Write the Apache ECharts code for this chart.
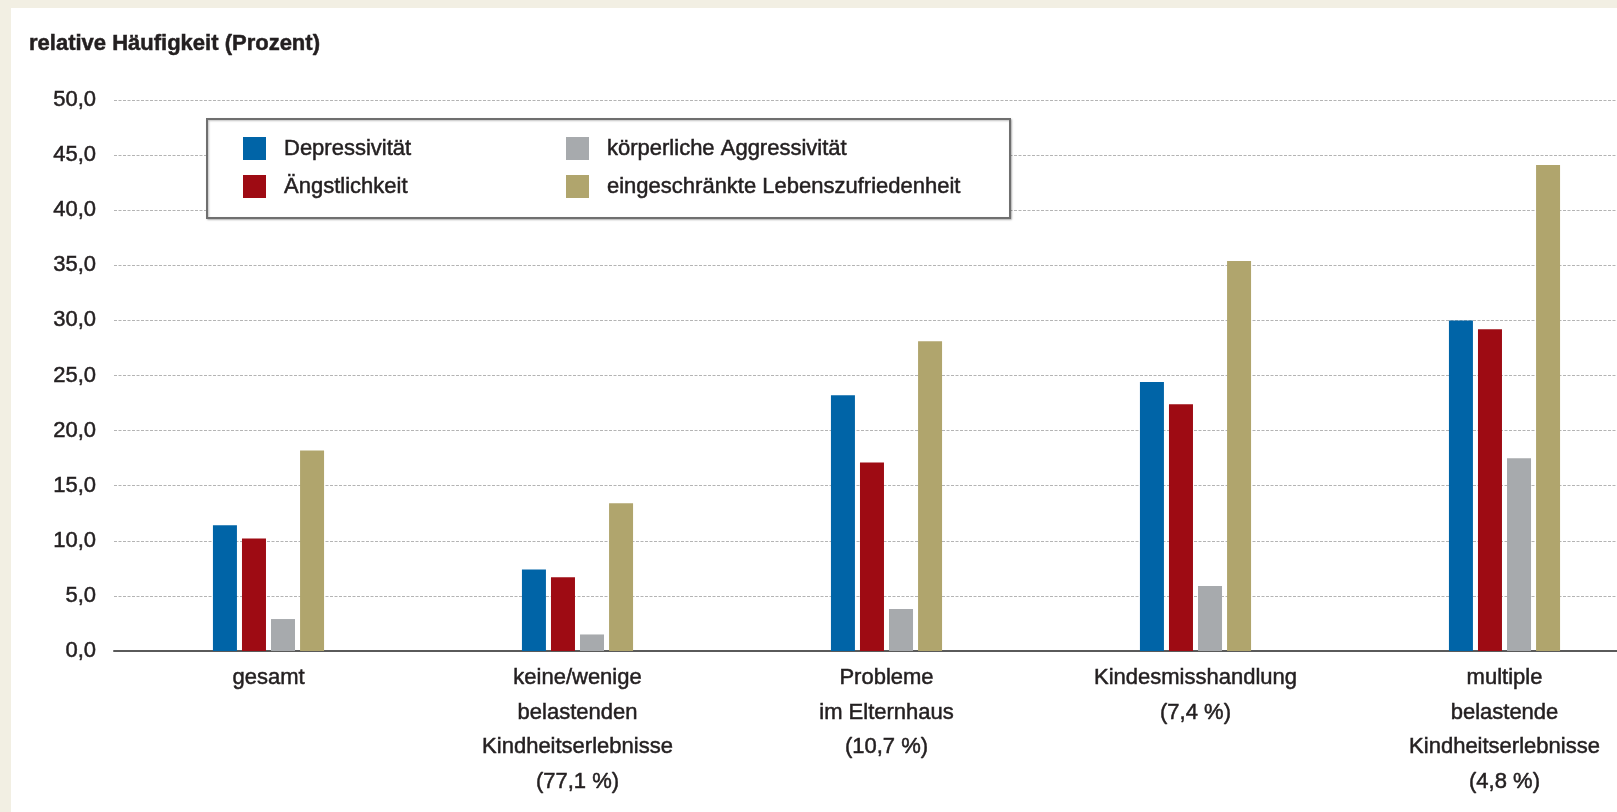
<!DOCTYPE html>
<html>
<head>
<meta charset="utf-8">
<script src="https://cdn.jsdelivr.net/npm/echarts@6/dist/echarts.min.js"></script>
<style>
  html, body { margin: 0; padding: 0; background: #f2efe3; }
  #panel { position: absolute; left: 11px; top: 8px; right: 0; bottom: 0; background: #ffffff; }
  #chart { position: absolute; left: 0; top: 0; width: 1617px; height: 812px; }
</style>
</head>
<body>
<div id="panel"></div>
<div id="chart"></div>
<script>
// Categories (group share of sample in brackets)
const categories = [
  'gesamt',
  'keine/wenige\nbelastenden\nKindheitserlebnisse\n(77,1 %)',
  'Probleme\nim Elternhaus\n(10,7 %)',
  'Kindesmisshandlung\n(7,4 %)',
  'multiple\nbelastende\nKindheitserlebnisse\n(4,8 %)'
];

// Relative frequencies in percent
const depressivitaet = [11.4, 7.4, 23.2, 24.4, 30.0];
const aengstlichkeit = [10.2, 6.7, 17.1, 22.4, 29.2];
const aggressivitaet = [2.9, 1.5, 3.8, 5.9, 17.5];
const lebenszufriedenheit = [18.2, 13.4, 28.1, 35.4, 44.1];

const seriesNames = [
  'Depressivität',
  'Ängstlichkeit',
  'körperliche Aggressivität',
  'eingeschränkte Lebenszufriedenheit'
];

// Value axis ticks
const yMin = 0, yMax = 50, yStep = 5;

const FONT = "'Liberation Sans', Arial, sans-serif";
const FS = 22;
const TEXT = '#231f20';
// thin outline in the text colour gives the labels a slightly heavier stroke
const HEAVY = { textBorderColor: TEXT, textBorderWidth: 0.5 };
const colors = ['#0064a7', '#9e0b13', '#a7aaad', '#b0a56d'];

const chart = echarts.init(document.getElementById('chart'), null, { renderer: 'canvas' });

const legendText = Object.assign({
  fontFamily: FONT, fontSize: FS, color: TEXT, lineHeight: 23,
  padding: [0, 0, 0, 13]
}, HEAVY);

const seriesData = [depressivitaet, aengstlichkeit, aggressivitaet, lebenszufriedenheit];

chart.setOption({
  backgroundColor: 'transparent',
  animation: false,
  color: colors,
  textStyle: { fontFamily: FONT },
  title: {
    text: 'relative Häufigkeit (Prozent)',
    left: 29, top: 31, padding: 0,
    textStyle: Object.assign({ fontFamily: FONT, fontSize: FS, fontWeight: 'bold', color: TEXT, lineHeight: 26 }, HEAVY)
  },
  graphic: [{
    type: 'rect',
    z: 50,
    shape: { x: 207, y: 119, width: 803, height: 99 },
    style: {
      fill: '#ffffff', stroke: '#6f6f6f', lineWidth: 2,
      shadowBlur: 2, shadowOffsetX: 1, shadowOffsetY: 1, shadowColor: 'rgba(0,0,0,0.25)'
    }
  }],
  legend: [{
    data: seriesNames.slice(0, 2),
    orient: 'vertical', left: 243, top: 137, padding: 0,
    itemWidth: 23, itemHeight: 23, itemGap: 15, icon: 'rect',
    textStyle: legendText, z: 60, selectedMode: false
  }, {
    data: seriesNames.slice(2, 4),
    orient: 'vertical', left: 566, top: 137, padding: 0,
    itemWidth: 23, itemHeight: 23, itemGap: 15, icon: 'rect',
    textStyle: legendText, z: 60, selectedMode: false
  }],
  // the plot area runs past the right edge of the canvas
  grid: { left: 114, right: -42, top: 100, bottom: 161, outerBoundsMode: 'none', containLabel: false },
  xAxis: {
    type: 'category',
    data: categories,
    axisTick: { show: false },
    axisLine: { show: true, lineStyle: { color: '#5a5a5a', width: 2 } },
    axisLabel: Object.assign({
      interval: 0, margin: 10,
      fontFamily: FONT, fontSize: FS, color: TEXT, lineHeight: 34.5, align: 'center'
    }, HEAVY)
  },
  yAxis: {
    type: 'value',
    min: yMin, max: yMax, interval: yStep,
    axisLine: { show: false },
    axisTick: { show: false },
    axisLabel: Object.assign({
      margin: 18, fontFamily: FONT, fontSize: FS, color: TEXT,
      formatter: v => v.toFixed(1).replace('.', ',')
    }, HEAVY),
    splitLine: { show: true, lineStyle: { color: '#b4b4b4', width: 1, type: [3, 1.5] } }
  },
  series: seriesNames.map((name, i) => ({
    name,
    type: 'bar',
    data: seriesData[i],
    barWidth: 24,
    barGap: '21%',
    itemStyle: { color: colors[i] }
  }))
});
</script>
</body>
</html>
